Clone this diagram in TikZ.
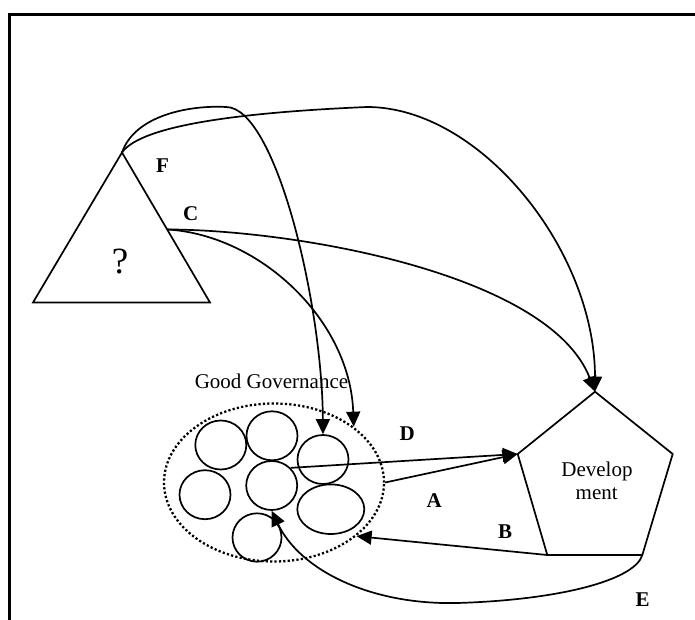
\documentclass[tikz,border=0pt]{standalone}
\usepackage{fontspec}
\setmainfont{Liberation Serif}
\usetikzlibrary{arrows.meta,shapes.geometric,calc}
\begin{document}
\begin{tikzpicture}[x=1pt,y=-1pt,line width=1.7pt,
  arr/.style={-{Triangle[length=15pt,width=14pt]}},
  blob/.style={draw,ellipse,inner sep=0pt,minimum width=51pt,minimum height=49pt},
  govern/.style={draw,ellipse,inner sep=0pt,minimum width=220pt,minimum height=158pt,
    line width=2.3pt,dash pattern=on 2.2pt off 2.2pt},
  lbl/.style={font=\fontsize{21}{25}\selectfont\bfseries,inner sep=0pt,anchor=base},
  txt/.style={font=\fontsize{21}{25}\selectfont,inner sep=0pt,anchor=base},
  frame/.style={line width=2.4pt}]
\useasboundingbox (0,0) rectangle (695,620);
% frame
\draw[frame] (9.5,620) -- (9.5,14.5) -- (695,14.5);

% triangle
\coordinate (tA) at (122,152.5);
\coordinate (tL) at (33,302.5);
\coordinate (tR) at (210,302.5);
\draw (tA) -- (tL) -- (tR) -- cycle;
\coordinate (cp) at ($(tA)!0.513!(tR)$);
\node[txt,font=\fontsize{37}{40}\selectfont] (q) at (120,273.3) {?};
\node[lbl] (lF) at (162.5,172.3) {F};
\node[lbl] (lC) at (190.8,221) {C};

% pentagon
\coordinate (pT) at (595,391.7);
\coordinate (pL) at (517.7,454);
\coordinate (pR) at (672.7,454);
\coordinate (pBL) at (547.3,555);
\coordinate (pBR) at (642.3,555);
\draw (pT) -- (pR) -- (pBR) -- (pBL) -- (pL) -- cycle;
\node[txt] (dev1) at (597,476.7) {Develop};
\node[txt] (dev2) at (596.7,499.3) {ment};

% good governance
\node[txt] (ggl) at (271.5,388.3) {Good Governance};
\node[govern] (gg) at (274,482.5) {};
\node[blob] (c1) at (220.8,445) {};
\node[blob] (c2) at (272,435.8) {};
\node[blob] (c3) at (323,459.5) {};
\node[blob] (c4) at (205,494.7) {};
\node[blob] (c5) at (271.7,485.5) {};
\node[blob,minimum width=67pt,minimum height=49.6pt] (c6) at (330.8,509.2) {};
\node[blob,minimum width=49pt,minimum height=48.4pt] (c7) at (257,537.5) {};

% labels
\node[lbl] (lD) at (407.3,440.7) {D};
\node[lbl] (lA) at (434.2,507.3) {A};
\node[lbl] (lB) at (505,538.3) {B};
\node[lbl] (lE) at (642.7,606.7) {E};

% connectors
\draw[arr] (tA) .. controls (135,115) and (190,105) .. (226,107)
  .. controls (275,107) and (322,300) .. (c3.north);
\draw[arr] (tA) .. controls (142,124) and (250,112) .. (367,107)
  .. controls (480,107) and (595,250) .. (pT);
\draw[arr] (cp) .. controls (300,230) and (550,275) .. (pT);
\draw[arr] (cp) .. controls (260,235) and (350,320) .. (gg.35.5);
\draw[arr] (c5.43) -- (pL);
\draw[arr] (gg.east) -- (pL);
\draw[arr] (pBL) -- (gg.-33.5);
\draw[arr] (pBR) .. controls (635,580) and (560,600) .. (457,603)
  .. controls (370,605) and (300,570) .. (c5.south);
\end{tikzpicture}
\end{document}
